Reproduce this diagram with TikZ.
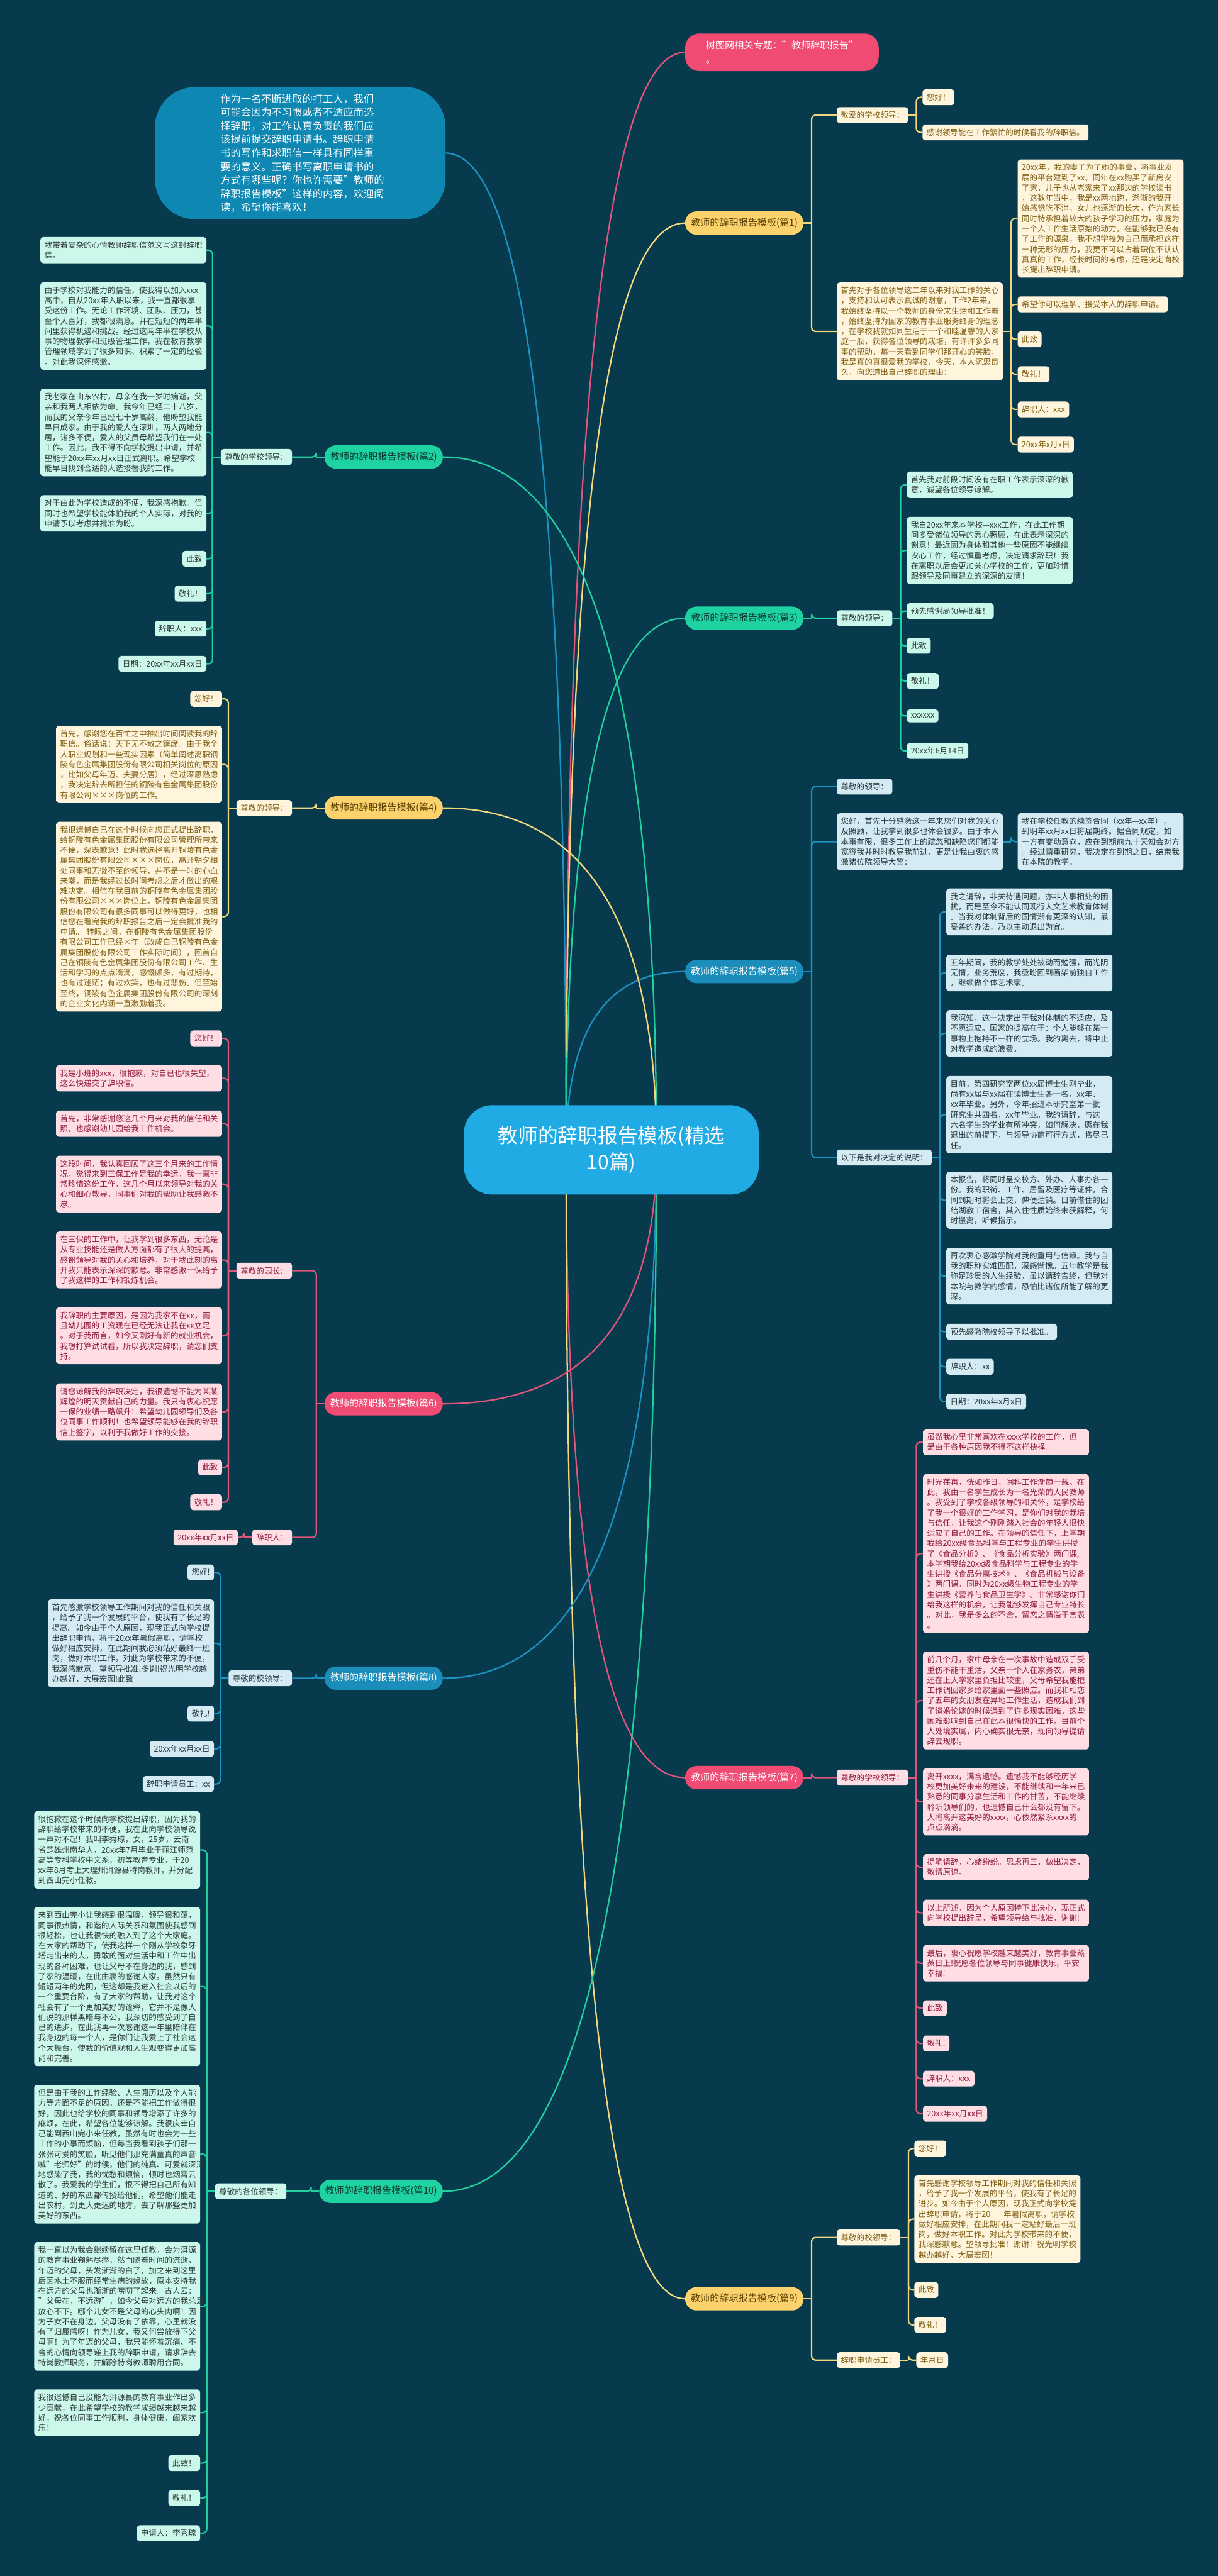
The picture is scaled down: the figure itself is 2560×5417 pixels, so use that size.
\documentclass[tikz,border=0pt]{standalone}
\usepackage{fontspec}
\setmainfont{Noto Sans CJK SC}
\usetikzlibrary{calc}
\definecolor{bgc}{RGB}{7,58,76}
\definecolor{ymain}{RGB}{252,210,108}
\definecolor{ymtxt}{RGB}{92,66,6}
\definecolor{yleaf}{RGB}{255,245,220}
\definecolor{ytxt}{RGB}{128,94,20}
\definecolor{yline}{RGB}{242,215,126}
\definecolor{gmain}{RGB}{30,211,161}
\definecolor{gmtxt}{RGB}{12,60,51}
\definecolor{gleaf}{RGB}{204,247,235}
\definecolor{gtxt}{RGB}{45,59,57}
\definecolor{gline}{RGB}{34,207,160}
\definecolor{bmain}{RGB}{26,141,186}
\definecolor{bleaf}{RGB}{212,235,243}
\definecolor{btxt}{RGB}{38,54,61}
\definecolor{bline}{RGB}{28,147,194}
\definecolor{pmain}{RGB}{239,75,115}
\definecolor{pleaf}{RGB}{255,221,228}
\definecolor{ptxt}{RGB}{142,27,61}
\definecolor{pline}{RGB}{224,85,124}
\definecolor{introc}{RGB}{15,135,179}
\definecolor{rootc}{RGB}{33,171,228}
\hyphenpenalty=10000
\exhyphenpenalty=10000
\pgfdeclarelayer{back}
\pgfdeclarelayer{bg}
\pgfsetlayers{back,bg,main}
\newcommand\rcon[3]{\draw[#1] (#2.east) -- ++(17,0); \draw[#1,rounded corners=9] ($(#2.east)+(17,0)$) |- (#3.west);}
\newcommand\lcon[3]{\draw[#1] (#2.west) -- ++(-17,0); \draw[#1,rounded corners=9] ($(#2.west)+(-17,0)$) |- (#3.east);}
\newcommand\rootlink[3]{\coordinate (tmpT) at (#3); \coordinate (tmpK) at (#2 |- #3);
  \draw[#1] (#2) .. controls ($(#2)!0.6667!(tmpK)$) and ($(tmpT)!0.6667!(tmpK)$) .. (tmpT);}
\begin{document}
\begin{tikzpicture}[x=1pt,y=1pt,
 leaf/.style={rounded corners=6, inner xsep=8.5, inner ysep=9, font=\fontsize{16.6}{21.5}\selectfont, align=left},
 para/.style={leaf, text width=332},
 cY/.style={fill=yleaf, text=ytxt},
 cG/.style={fill=gleaf, text=gtxt},
 cB/.style={fill=bleaf, text=btxt},
 cP/.style={fill=pleaf, text=ptxt},
 mainn/.style={rounded corners=24, inner xsep=12, inner ysep=0, minimum height=49, text height=16, text depth=4, font=\fontsize{20}{24}\selectfont},
 mY/.style={mainn, fill=ymain, text=ymtxt},
 mG/.style={mainn, fill=gmain, text=gmtxt},
 mB/.style={mainn, fill=bmain, text=white},
 mP/.style={mainn, fill=pmain, text=white},
 lnY/.style={draw=yline, line width=3},
 lnG/.style={draw=gline, line width=3},
 lnB/.style={draw=bline, line width=3},
 lnP/.style={draw=pline, line width=3},
]
\begin{pgfonlayer}{back}
\fill[bgc] (0,0) rectangle (2560,-5417);
\end{pgfonlayer}
\useasboundingbox (0,0) rectangle (2560,-5417);

% root, intro, topic
\node[fill=rootc, text=white, rounded corners=60, minimum width=620, minimum height=188, align=center, font=\fontsize{42}{56}\selectfont] (root) at (1285,-2418) {教师的辞职报告模板(精选\\10篇)};
\node[fill=introc, text=white, rounded corners=85, minimum width=611, minimum height=278, text width=335, align=left, font=\fontsize{21.5}{28.5}\selectfont] (intro) at (631,-322) {作为一名不断进取的打工人，我们\\可能会因为不习惯或者不适应而选\\择辞职，对工作认真负责的我们应\\该提前提交辞职申请书。辞职申请\\书的写作和求职信一样具有同样重\\要的意义。正确书写离职申请书的\\方式有哪些呢？你也许需要"教师的\\辞职报告模板"这样的内容，欢迎阅\\读，希望你能喜欢！};
\node[fill=pmain, text=white, rounded corners=30, anchor=west, minimum width=407, minimum height=79, inner xsep=34, align=left, font=\fontsize{20}{30}\selectfont] (topic) at (1440,-110) {树图网相关专题："教师辞职报告"\\。};

% ===== 篇1 =====
\node[mY, anchor=west] (p1) at (1440,-469) {教师的辞职报告模板(篇1)};
\node[leaf,cY,anchor=west] (p1a) at (1759,-242) {敬爱的学校领导：};
\node[leaf,cY,anchor=west] (p1a1) at (1939,-204.5) {您好！};
\node[leaf,cY,anchor=west] (p1a2) at (1939,-278.5) {感谢领导能在工作繁忙的时候看我的辞职信。};
\node[para,cY,anchor=west] (p1b) at (1759,-697) {首先对于各位领导这二年以来对我工作的关心\\，支持和认可表示真诚的谢意，工作2年来，\\我始终坚持以一个教师的身份来生活和工作着\\，始终坚持为国家的教育事业服务终身的理念\\，在学校我就如同生活于一个和睦温馨的大家\\庭一般，获得各位领导的栽培，有许许多多同\\事的帮助，每一天看到同学们那开心的笑脸，\\我是真的真很爱我的学校，今天，本人沉思良\\久，向您道出自己辞职的理由：};
\node[para,cY,anchor=west] (p1b1) at (2139,-459.5) {20xx年，我的妻子为了她的事业，将事业发\\展的平台建到了xx，同年在xx购买了新房安\\了家，儿子也从老家来了xx那边的学校读书\\，这数年当中，我是xx两地跑，渐渐的我开\\始感觉吃不消，女儿也逐渐的长大，作为家长\\同时特承担着较大的孩子学习的压力，家庭为\\一个人工作生活原始的动力，在能够我已没有\\了工作的源泉，我不想学校为自己而承担这样\\一种无形的压力，我更不可以占着职位不认认\\真真的工作，经长时间的考虑，还是决定向校\\长提出辞职申请。};
\node[leaf,cY,anchor=west] (p1b2) at (2139,-640) {希望你可以理解、接受本人的辞职申请。};
\node[leaf,cY,anchor=west] (p1b3) at (2139,-713.5) {此致};
\node[leaf,cY,anchor=west] (p1b4) at (2139,-787) {敬礼！};
\node[leaf,cY,anchor=west] (p1b5) at (2139,-861) {辞职人：xxx};
\node[leaf,cY,anchor=west] (p1b6) at (2139,-935) {20xx年x月x日};

% ===== 篇3 =====
\node[mG, anchor=west] (p3) at (1440,-1300) {教师的辞职报告模板(篇3)};
\node[leaf,cG,anchor=west] (p3a) at (1759,-1300) {尊敬的领导：};
\node[para,cG,anchor=west] (p3a1) at (1906,-1019.5) {首先我对前段时间没有在职工作表示深深的歉\\意，诚望各位领导谅解。};
\node[para,cG,anchor=west] (p3a2) at (1906,-1157.5) {我自20xx年来本学校—xxx工作，在此工作期\\间多受诸位领导的悉心照顾，在此表示深深的\\谢意！最近因为身体和其他一些原因不能继续\\安心工作，经过慎重考虑，决定请求辞职！我\\在离职以后会更加关心学校的工作，更加珍惜\\跟领导及同事建立的深深的友情！};
\node[leaf,cG,anchor=west] (p3a3) at (1906,-1285) {预先感谢局领导批准！};
\node[leaf,cG,anchor=west] (p3a4) at (1906,-1358) {此致};
\node[leaf,cG,anchor=west] (p3a5) at (1906,-1432) {敬礼！};
\node[leaf,cG,anchor=west] (p3a6) at (1906,-1505.5) {xxxxxx};
\node[leaf,cG,anchor=west] (p3a7) at (1906,-1579) {20xx年6月14日};

% ===== 篇5 =====
\node[mB, anchor=west] (p5) at (1440,-2043) {教师的辞职报告模板(篇5)};
\node[leaf,cB,anchor=west] (p5a) at (1759,-1654) {尊敬的领导：};
\node[para,cB,anchor=west] (p5b) at (1759,-1770) {您好，首先十分感激这一年来您们对我的关心\\及照顾，让我学到很多也体会很多。由于本人\\本事有限，很多工作上的疏忽和缺陷您们都能\\宽容我并时时教导我前进，更是让我由衷的感\\激诸位院领导大鉴：};
\node[para,cB,anchor=west] (p5b1) at (2139,-1770) {我在学校任教的续签合同（xx年—xx年），\\到明年xx月xx日将届期终。据合同规定，如\\一方有变动意向，应在到期前九十天知会对方\\。经过慎重研究，我决定在到期之日，结束我\\在本院的教学。};
\node[leaf,cB,anchor=west] (p5c) at (1759,-2434) {以下是我对决定的说明：};
\node[para,cB,anchor=west] (p5c1) at (1989,-1917.5) {我之请辞，非关待遇问题，亦非人事相处的困\\扰，而是至今不能认同现行人文艺术教育体制\\。当我对体制背后的国情渐有更深的认知，最\\妥善的办法，乃以主动退出为宜。};
\node[para,cB,anchor=west] (p5c2) at (1989,-2046) {五年期间，我的教学处处被动而勉强，而光阴\\无情，业务荒废，我亟盼回到画架前独自工作\\，继续做个体艺术家。};
\node[para,cB,anchor=west] (p5c3) at (1989,-2173) {我深知，这一决定出于我对体制的不适应，及\\不愿适应。国家的提高在于：个人能够在某一\\事物上抱持不一样的立场。我的离去，将中止\\对教学造成的浪费。};
\node[para,cB,anchor=west] (p5c4) at (1989,-2344) {目前，第四研究室两位xx届博士生刚毕业，\\尚有xx届与xx届在读博士生各一名，xx年、\\xx年毕业。另外，今年招进本研究室第一批\\研究生共四名，xx年毕业。我的请辞，与这\\六名学生的学业有所冲突，如何解决，愿在我\\退出的前提下，与领导协商可行方式，恪尽己\\任。};
\node[para,cB,anchor=west] (p5c5) at (1989,-2524) {本报告，将同时呈交校方、外办、人事办各一\\份。我的职衔、工作、居留及医疗等证件，合\\同到期时将会上交，俾便注销。目前借住的团\\结湖教工宿舍，其入住性质始终未获解释，何\\时搬离，听候指示。};
\node[para,cB,anchor=west] (p5c6) at (1989,-2683.5) {再次衷心感激学院对我的重用与信赖。我与自\\我的职称实难匹配，深感惭愧。五年教学是我\\弥足珍贵的人生经验，虽以请辞告终，但我对\\本院与教学的感情，恐怕比诸位所能了解的更\\深。};
\node[leaf,cB,anchor=west] (p5c7) at (1989,-2800.5) {预先感激院校领导予以批准。};
\node[leaf,cB,anchor=west] (p5c8) at (1989,-2874) {辞职人：xx};
\node[leaf,cB,anchor=west] (p5c9) at (1989,-2947.5) {日期：20xx年x月x日};

% ===== 篇7 =====
\node[mP, anchor=west] (p7) at (1440,-3738) {教师的辞职报告模板(篇7)};
\node[leaf,cP,anchor=west] (p7a) at (1759,-3738) {尊敬的学校领导：};
\node[para,cP,anchor=west] (p7a1) at (1940,-3032.5) {虽然我心里非常喜欢在xxxx学校的工作，但\\是由于各种原因我不得不这样抉择。};
\node[para,cP,anchor=west] (p7a2) at (1940,-3267) {时光荏苒，恍如昨日，闽科工作渐趋一载。在\\此，我由一名学生成长为一名光荣的人民教师\\。我受到了学校各级领导的和关怀，是学校给\\了我一个很好的工作学习，是你们对我的栽培\\与信任，让我这个刚刚踏入社会的年轻人很快\\适应了自己的工作。在领导的信任下，上学期\\我给20xx级食品科学与工程专业的学生讲授\\了《食品分析》、《食品分析实验》两门课;\\本学期我给20xx级食品科学与工程专业的学\\生讲授《食品分离技术》、《食品机械与设备\\》两门课，同时为20xx级生物工程专业的学\\生讲授《营养与食品卫生学》。非常感谢你们\\给我这样的机会，让我能够发挥自己专业特长\\。对此，我是多么的不舍，留恋之情溢于言表\\。};
\node[para,cP,anchor=west] (p7a3) at (1940,-3576) {前几个月，家中母亲在一次事故中造成双手受\\重伤不能干重活，父亲一个人在家务农，弟弟\\还在上大学家里负担比较重，父母希望我能把\\工作调回家乡给家里面一些照应。而我和相恋\\了五年的女朋友在异地工作生活，造成我们到\\了谈婚论嫁的时候遇到了许多现实困难，这些\\困难影响到自己在此本很愉快的工作。目前个\\人处境实属，内心确实很无奈，现向领导提请\\辞去现职。};
\node[para,cP,anchor=west] (p7a4) at (1940,-3789) {离开xxxx，满含遗憾。遗憾我不能够经历学\\校更加美好未来的建设，不能继续和一年来已\\熟悉的同事分享生活和工作的甘苦，不能继续\\聆听领导们的，也遗憾自己什么都没有留下。\\人将离开这美好的xxxx，心依然紧系xxxx的\\点点滴滴。};
\node[para,cP,anchor=west] (p7a5) at (1940,-3926.5) {提笔请辞，心绪纷纷。思虑再三，做出决定，\\敬请原谅。};
\node[para,cP,anchor=west] (p7a6) at (1940,-4022.5) {以上所述，因为个人原因特下此决心，现正式\\向学校提出辞呈，希望领导给与批准，谢谢!};
\node[para,cP,anchor=west] (p7a7) at (1940,-4128.5) {最后，衷心祝愿学校越来越美好，教育事业蒸\\蒸日上!祝愿各位领导与同事健康快乐，平安\\幸福!};
\node[leaf,cP,anchor=west] (p7a8) at (1940,-4223) {此致};
\node[leaf,cP,anchor=west] (p7a9) at (1940,-4297) {敬礼!};
\node[leaf,cP,anchor=west] (p7a10) at (1940,-4371) {辞职人：xxx};
\node[leaf,cP,anchor=west] (p7a11) at (1940,-4445) {20xx年xx月xx日};

% ===== 篇9 =====
\node[mY, anchor=west] (p9) at (1440,-4834) {教师的辞职报告模板(篇9)};
\node[leaf,cY,anchor=west] (p9a) at (1759,-4705) {尊敬的校领导：};
\node[leaf,cY,anchor=west] (p9a1) at (1922,-4518) {您好！};
\node[para,cY,anchor=west] (p9a2) at (1922,-4666.5) {首先感谢学校领导工作期间对我的信任和关照\\，给予了我一个发展的平台，使我有了长足的\\进步。如今由于个人原因，现我正式向学校提\\出辞职申请，将于20\_\_\_年暑假离职，请学校\\做好相应安排，在此期间我一定站好最后一班\\岗，做好本职工作。对此为学校带来的不便，\\我深感歉意。望领导批准！谢谢！祝光明学校\\越办越好，大展宏图！};
\node[leaf,cY,anchor=west] (p9a3) at (1922,-4815.5) {此致};
\node[leaf,cY,anchor=west] (p9a4) at (1922,-4889) {敬礼！};
\node[leaf,cY,anchor=west] (p9b) at (1759,-4963) {辞职申请员工：};
\node[leaf,cY,anchor=west] (p9b1) at (1926,-4963) {年月日};

% ===== 篇2 =====
\node[mG, anchor=east] (p2) at (931,-961) {教师的辞职报告模板(篇2)};
\node[leaf,cG,anchor=east] (p2a) at (614,-961) {尊敬的学校领导：};
\node[para,cG,anchor=east] (p2a1) at (434,-526) {我带着复杂的心情教师辞职信范文写这封辞职\\信。};
\node[para,cG,anchor=east] (p2a2) at (434,-685.5) {由于学校对我能力的信任，使我得以加入xxx\\高中，自从20xx年入职以来，我一直都很享\\受这份工作。无论工作环境、团队、压力，甚\\至个人喜好，我都很满意。并在短短的两年半\\间里获得机遇和挑战。经过这两年半在学校从\\事的物理教学和班级管理工作，我在教育教学\\管理领域学到了很多知识、积累了一定的经验\\。对此我深怀感激。};
\node[para,cG,anchor=east] (p2a3) at (434,-909.5) {我老家在山东农村，母亲在我一岁时病逝，父\\亲和我两人相依为命。我今年已经二十八岁，\\而我的父亲今年已经七十岁高龄，他盼望我能\\早日成家。由于我的爱人在深圳，两人两地分\\居，诸多不便，爱人的父员母希望我们在一处\\工作。因此，我不得不向学校提出申请，并希\\望能于20xx年xx月xx日正式离职。希望学校\\能早日找到合适的人选接替我的工作。};
\node[para,cG,anchor=east] (p2a4) at (434,-1079.5) {对于由此为学校造成的不便，我深感抱歉。但\\同时也希望学校能体恤我的个人实际，对我的\\申请予以考虑并批准为盼。};
\node[leaf,cG,anchor=east] (p2a5) at (434,-1175) {此致};
\node[leaf,cG,anchor=east] (p2a6) at (434,-1248.5) {敬礼！};
\node[leaf,cG,anchor=east] (p2a7) at (434,-1322) {辞职人：xxx};
\node[leaf,cG,anchor=east] (p2a8) at (434,-1396) {日期：20xx年xx月xx日};

% ===== 篇4 =====
\node[mY, anchor=east] (p4) at (931,-1699) {教师的辞职报告模板(篇4)};
\node[leaf,cY,anchor=east] (p4a) at (614,-1699) {尊敬的领导：};
\node[leaf,cY,anchor=east] (p4a1) at (467,-1469.5) {您好！};
\node[para,cY,anchor=east] (p4a2) at (467,-1607.5) {首先，感谢您在百忙之中抽出时间阅读我的辞\\职信。俗话说：天下无不散之筵席。由于我个\\人职业规划和一些现实因素（简单阐述离职铜\\陵有色金属集团股份有限公司相关岗位的原因\\，比如父母年迈、夫妻分居），经过深思熟虑\\，我决定辞去所担任的铜陵有色金属集团股份\\有限公司×××岗位的工作。};
\node[para,cY,anchor=east] (p4a3) at (467,-1927.5) {我很遗憾自己在这个时候向您正式提出辞职，\\给铜陵有色金属集团股份有限公司管理所带来\\不便，深表歉意！此时我选择离开铜陵有色金\\属集团股份有限公司×××岗位，离开朝夕相\\处同事和无微不至的领导，并不是一时的心血\\来潮，而是我经过长时间考虑之后才做出的艰\\难决定。相信在我目前的铜陵有色金属集团股\\份有限公司×××岗位上，铜陵有色金属集团\\股份有限公司有很多同事可以做得更好，也相\\信您在看完我的辞职报告之后一定会批准我的\\申请。~转眼之间，在铜陵有色金属集团股份\\有限公司工作已经×年（改成自己铜陵有色金\\属集团股份有限公司工作实际时间），回首自\\己在铜陵有色金属集团股份有限公司工作、生\\活和学习的点点滴滴，感慨颇多，有过期待，\\也有过迷茫；有过欢笑，也有过悲伤。但至始\\至终，铜陵有色金属集团股份有限公司的深刻\\的企业文化内涵一直激励着我。};

% ===== 篇6 =====
\node[mP, anchor=east] (p6) at (931,-2952) {教师的辞职报告模板(篇6)};
\node[leaf,cP,anchor=east] (p6a) at (614,-2672) {尊敬的园长：};
\node[leaf,cP,anchor=east] (p6a1) at (467,-2183.5) {您好！};
\node[para,cP,anchor=east] (p6a2) at (467,-2267.5) {我是小班的xxx，很抱歉，对自已也很失望，\\这么快递交了辞职信。};
\node[para,cP,anchor=east] (p6a3) at (467,-2363) {首先，非常感谢您这几个月来对我的信任和关\\照，也感谢幼儿园给我工作机会。};
\node[para,cP,anchor=east] (p6a4) at (467,-2490) {这段时间，我认真回顾了这三个月来的工作情\\况，觉得来到三保工作是我的幸运，我一直非\\常珍惜这份工作，这几个月以来领导对我的关\\心和细心教导，同事们对我的帮助让我感激不\\尽。};
\node[para,cP,anchor=east] (p6a5) at (467,-2649.5) {在三保的工作中，让我学到很多东西，无论是\\从专业技能还是做人方面都有了很大的提高，\\感谢领导对我的关心和培养，对于我此刻的离\\开我只能表示深深的歉意。非常感激一保给予\\了我这样的工作和锻炼机会。};
\node[para,cP,anchor=east] (p6a6) at (467,-2809) {我辞职的主要原因，是因为我家不在xx，而\\且幼儿园的工资现在已经无法让我在xx立足\\。对于我而言，如今又刚好有新的就业机会，\\我想打算试试看，所以我决定辞职，请您们支\\持。};
\node[para,cP,anchor=east] (p6a7) at (467,-2969) {请您谅解我的辞职决定，我很遗憾不能为某某\\辉煌的明天贡献自己的力量。我只有衷心祝愿\\一保的业绩一路飙升！希望幼儿园领导们及各\\位同事工作顺利！也希望领导能够在我的辞职\\信上签字，以利于我做好工作的交接。};
\node[leaf,cP,anchor=east] (p6a8) at (467,-3085.5) {此致};
\node[leaf,cP,anchor=east] (p6a9) at (467,-3159) {敬礼！};
\node[leaf,cP,anchor=east] (p6b) at (614,-3233) {辞职人：};
\node[leaf,cP,anchor=east] (p6b1) at (500,-3233) {20xx年xx月xx日};

% ===== 篇8 =====
\node[mB, anchor=east] (p8) at (931,-3529) {教师的辞职报告模板(篇8)};
\node[leaf,cB,anchor=east] (p8a) at (614,-3529) {尊敬的校领导：};
\node[leaf,cB,anchor=east] (p8a1) at (450,-3306.5) {您好!};
\node[para,cB,anchor=east] (p8a2) at (450,-3455.5) {首先感激学校领导工作期间对我的信任和关照\\，给予了我一个发展的平台，使我有了长足的\\提高。如今由于个人原因，现我正式向学校提\\出辞职申请，将于20xx年暑假离职，请学校\\做好相应安排，在此期间我必须站好最终一班\\岗，做好本职工作。对此为学校带来的不便，\\我深感歉意。望领导批准!多谢!祝光明学校越\\办越好，大展宏图!此致};
\node[leaf,cB,anchor=east] (p8a3) at (450,-3603.5) {敬礼!};
\node[leaf,cB,anchor=east] (p8a4) at (450,-3677.5) {20xx年xx月xx日};
\node[leaf,cB,anchor=east] (p8a5) at (450,-3751.5) {辞职申请员工：xx};

% ===== 篇10 =====
\node[mG, anchor=east] (p10) at (931,-4608) {教师的辞职报告模板(篇10)};
\node[leaf,cG,anchor=east] (p10a) at (602,-4608) {尊敬的各位领导：};
\node[para,cG,anchor=east] (p10a1) at (421,-3890) {很抱歉在这个时候向学校提出辞职，因为我的\\辞职给学校带来的不便，我在此向学校领导说\\一声对不起！我叫李秀琼，女，25岁，云南\\省楚雄州南华人，20xx年7月毕业于丽江师范\\高等专科学校中文系，初等教育专业，于20\\xx年8月考上大理州洱源县特岗教师，并分配\\到西山完小任教。};
\node[para,cG,anchor=east] (p10a2) at (421,-4177.5) {来到西山完小让我感到很温暖，领导很和蔼，\\同事很热情，和谐的人际关系和氛围使我感到\\很轻松，也让我很快的融入到了这个大家庭。\\在大家的帮助下，使我这样一个刚从学校象牙\\塔走出来的人，勇敢的面对生活中和工作中出\\现的各种困难，也让父母不在身边的我，感到\\了家的温暖，在此由衷的感谢大家。虽然只有\\短短两年的光阴，但这却是我进入社会以后的\\一个重要台阶，有了大家的帮助，让我对这个\\社会有了一个更加美好的诠释，它并不是像人\\们说的那样黑暗与不公，我深切的感受到了自\\己的进步，在此我再一次感谢这一年里陪伴在\\我身边的每一个人，是你们让我爱上了社会这\\个大舞台，使我的价值观和人生观变得更加高\\尚和完善。};
\node[para,cG,anchor=east] (p10a3) at (421,-4530) {但是由于我的工作经验、人生阅历以及个人能\\力等方面不足的原因，还是不能把工作做得很\\好，因此也给学校的同事和领导增添了许多的\\麻烦，在此，希望各位能够谅解。我很庆幸自\\己能到西山完小来任教，虽然有时也会为一些\\工作的小事而烦恼，但每当我看到孩子们那一\\张张可爱的笑脸，听见他们那充满童真的声音\\喊"老师好"的时候，他们的纯真、可爱就深深\\地感染了我，我的忧愁和烦恼，顿时也烟霄云\\散了。我爱我的学生们，恨不得把自己所有知\\道的、好的东西都传授给他们，希望他们能走\\出农村，到更大更远的地方，去了解那些更加\\美好的东西。};
\node[para,cG,anchor=east] (p10a4) at (421,-4850) {我一直以为我会继续留在这里任教，会为洱源\\的教育事业鞠躬尽瘁，然而随着时间的流逝，\\年迈的父母，头发渐渐的白了，加之来到这里\\后因水土不服而经常生病的缘故，原本支持我\\在远方的父母也渐渐的唠叨了起来。古人云：\\"父母在，不远游"，如今父母对远方的我总是\\放心不下。哪个儿女不是父母的心头肉啊！因\\为子女不在身边，父母没有了依靠，心里就没\\有了归属感呀！作为儿女，我又何尝放得下父\\母啊！为了年迈的父母，我只能怀着沉痛、不\\舍的心情向领导递上我的辞职申请，请求辞去\\特岗教师职务，并解除特岗教师聘用合同。};
\node[para,cG,anchor=east] (p10a5) at (421,-5073.5) {我很遗憾自己没能为洱源县的教育事业作出多\\少贡献，在此希望学校的教学成绩越来越来越\\好，祝各位同事工作顺利，身体健康，阖家欢\\乐！};
\node[leaf,cG,anchor=east] (p10a6) at (421,-5179.5) {此致！};
\node[leaf,cG,anchor=east] (p10a7) at (421,-5253) {敬礼！};
\node[leaf,cG,anchor=east] (p10a8) at (421,-5327) {申请人：李秀琼};

% ===== connectors =====
\begin{pgfonlayer}{bg}
\coordinate (PR) at (1190,-2418);
\coordinate (PL) at (1380,-2418);
\rootlink{lnP}{PR}{topic.west}
\rootlink{lnB}{PR}{intro.east}
\rootlink{lnY}{PR}{p1.west}
\rootlink{lnG}{PR}{p3.west}
\rootlink{lnB}{PR}{p5.west}
\rootlink{lnP}{PR}{p7.west}
\rootlink{lnY}{PR}{p9.west}
\rootlink{lnG}{PL}{p2.east}
\rootlink{lnY}{PL}{p4.east}
\rootlink{lnP}{PL}{p6.east}
\rootlink{lnB}{PL}{p8.east}
\rootlink{lnG}{PL}{p10.east}
% 篇1
\rcon{lnY}{p1}{p1a}\rcon{lnY}{p1}{p1b}
\rcon{lnY}{p1a}{p1a1}\rcon{lnY}{p1a}{p1a2}
\foreach \c in {p1b1,p1b2,p1b3,p1b4,p1b5,p1b6} {\rcon{lnY}{p1b}{\c}}
% 篇3
\rcon{lnG}{p3}{p3a}
\foreach \c in {p3a1,p3a2,p3a3,p3a4,p3a5,p3a6,p3a7} {\rcon{lnG}{p3a}{\c}}
% 篇5
\rcon{lnB}{p5}{p5a}\rcon{lnB}{p5}{p5b}\rcon{lnB}{p5}{p5c}
\rcon{lnB}{p5b}{p5b1}
\foreach \c in {p5c1,p5c2,p5c3,p5c4,p5c5,p5c6,p5c7,p5c8,p5c9} {\rcon{lnB}{p5c}{\c}}
% 篇7
\rcon{lnP}{p7}{p7a}
\foreach \c in {p7a1,p7a2,p7a3,p7a4,p7a5,p7a6,p7a7,p7a8,p7a9,p7a10,p7a11} {\rcon{lnP}{p7a}{\c}}
% 篇9
\rcon{lnY}{p9}{p9a}\rcon{lnY}{p9}{p9b}
\foreach \c in {p9a1,p9a2,p9a3,p9a4} {\rcon{lnY}{p9a}{\c}}
\rcon{lnY}{p9b}{p9b1}
% 篇2
\lcon{lnG}{p2}{p2a}
\foreach \c in {p2a1,p2a2,p2a3,p2a4,p2a5,p2a6,p2a7,p2a8} {\lcon{lnG}{p2a}{\c}}
% 篇4
\lcon{lnY}{p4}{p4a}
\foreach \c in {p4a1,p4a2,p4a3} {\lcon{lnY}{p4a}{\c}}
% 篇6
\lcon{lnP}{p6}{p6a}\lcon{lnP}{p6}{p6b}
\foreach \c in {p6a1,p6a2,p6a3,p6a4,p6a5,p6a6,p6a7,p6a8,p6a9} {\lcon{lnP}{p6a}{\c}}
\lcon{lnP}{p6b}{p6b1}
% 篇8
\lcon{lnB}{p8}{p8a}
\foreach \c in {p8a1,p8a2,p8a3,p8a4,p8a5} {\lcon{lnB}{p8a}{\c}}
% 篇10
\lcon{lnG}{p10}{p10a}
\foreach \c in {p10a1,p10a2,p10a3,p10a4,p10a5,p10a6,p10a7,p10a8} {\lcon{lnG}{p10a}{\c}}
\end{pgfonlayer}
\end{tikzpicture}
\end{document}
